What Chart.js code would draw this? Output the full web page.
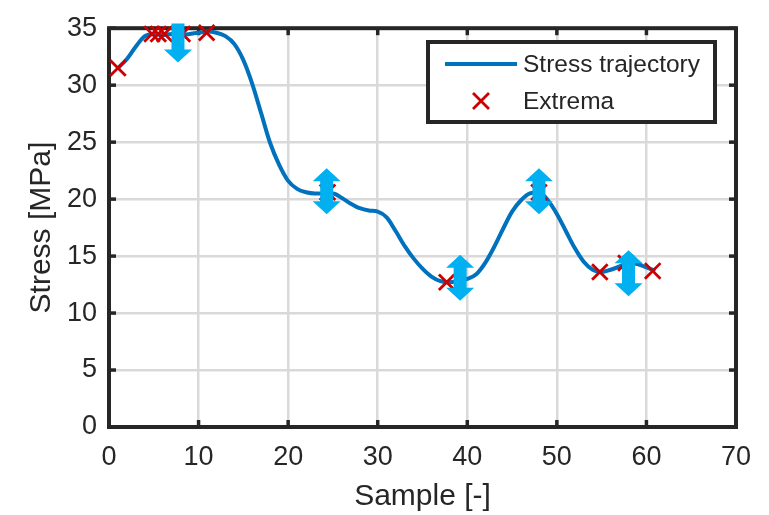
<!DOCTYPE html>
<html><head><meta charset="utf-8">
<script src="https://cdn.jsdelivr.net/npm/chart.js@4"></script>
<style>html,body{margin:0;padding:0;background:#fff}</style>
</head><body>
<canvas id="c" width="769" height="515"></canvas>
<script>
// ---- data ----
const sampleX = [1,2,3,4,5,6,7,8,9,10,11,12,13,14,15,16,17,18,19,20,21,22,23,24,25,26,27,28,29,30,31,32,33,34,35,36,37,38,39,40,41,42,43,44,45,46,47,48,49,50,51,52,53,54,55,56,57,58,59,60,61];
const stressY = [31.5,32.3,33.4,34.3,34.5,34.4,34.5,34.4,34.5,34.6,34.7,34.6,34.3,33.6,32.2,30.1,27.5,24.9,23.0,21.6,20.9,20.6,20.5,20.5,20.5,20.1,19.6,19.2,19.0,18.9,18.4,17.2,15.9,14.8,13.9,13.2,12.8,12.7,12.8,13.0,13.4,14.4,15.8,17.4,18.9,19.9,20.5,20.6,19.9,18.7,17.2,15.7,14.5,13.8,13.6,13.8,14.1,14.4,14.3,14.0,13.7];
const extremaX = [1,4.8,5.5,6.2,8.2,10.9,24.4,37.7,48,54.8,57.7,60.7];
const extremaY = [31.5,34.5,34.5,34.5,34.5,34.6,20.6,12.7,20.6,13.6,14.4,13.7];
const arrowX = [7.7,24.3,39.2,48,58];
const arrowY = [33.7,20.7,13.1,20.7,13.5];
const arrowKind = ['down','both','both','both','both'];
const xTicks = [0,10,20,30,40,50,60,70];
const yTicks = [0,5,10,15,20,25,30,35];
const seriesNames = ['Stress trajectory','Extrema'];
const axisTitles = {x:'Sample [-]', y:'Stress [MPa]'};

const FONT = "'Liberation Sans', Arial, Helvetica, sans-serif";
const TXT = '#262626';
const BLUE = '#0072BD';
const RED = '#cc0000';
const ARROW = '#00b0f0';

const frame = {
  id:'frame',
  beforeDatasetsDraw(chart){
    const {ctx, chartArea:a, scales:{x,y}} = chart;
    ctx.save();
    ctx.strokeStyle = TXT; ctx.lineWidth = 3.5; ctx.lineCap='butt';
    const ln=(x1,y1,x2,y2)=>{ctx.beginPath();ctx.moveTo(x1,y1);ctx.lineTo(x2,y2);ctx.stroke();};
    xTicks.forEach(v=>{const p=x.getPixelForValue(v); ln(p,a.top,p,a.top+7); ln(p,a.bottom,p,a.bottom-7);});
    yTicks.forEach(v=>{const p=y.getPixelForValue(v); ln(a.left,p,a.left+7,p); ln(a.right,p,a.right-7,p);});
    ctx.lineWidth = 4;
    ctx.strokeRect(a.left,a.top,a.right-a.left,a.bottom-a.top);
    ctx.restore();
  },
  afterDatasetsDraw(chart){
    const {ctx, scales:{x,y}} = chart;
    ctx.save();
    ctx.fillStyle = ARROW;
    const sw=6.5, hw=14, hl=13;
    arrowX.forEach((v,i)=>{
      const cx=x.getPixelForValue(v), cy=y.getPixelForValue(arrowY[i]);
      ctx.beginPath();
      if(arrowKind[i]==='down'){
        const L=39, t=cy-L/2, b=cy+L/2;
        ctx.moveTo(cx-sw,t); ctx.lineTo(cx+sw,t); ctx.lineTo(cx+sw,b-hl); ctx.lineTo(cx+hw,b-hl);
        ctx.lineTo(cx,b); ctx.lineTo(cx-hw,b-hl); ctx.lineTo(cx-sw,b-hl); ctx.closePath();
      } else {
        const L=46, t=cy-L/2, b=cy+L/2;
        ctx.moveTo(cx,t); ctx.lineTo(cx+hw,t+hl); ctx.lineTo(cx+sw,t+hl); ctx.lineTo(cx+sw,b-hl);
        ctx.lineTo(cx+hw,b-hl); ctx.lineTo(cx,b); ctx.lineTo(cx-hw,b-hl); ctx.lineTo(cx-sw,b-hl);
        ctx.lineTo(cx-sw,t+hl); ctx.lineTo(cx-hw,t+hl); ctx.closePath();
      }
      ctx.fill();
    });
    // legend
    const lx=428, ly=42, lw=287, lh=80;
    ctx.fillStyle='#fff'; ctx.fillRect(lx,ly,lw,lh);
    ctx.strokeStyle=TXT; ctx.lineWidth=4; ctx.strokeRect(lx,ly,lw,lh);
    ctx.strokeStyle=BLUE; ctx.lineWidth=4;
    ctx.beginPath(); ctx.moveTo(445,64); ctx.lineTo(517,64); ctx.stroke();
    ctx.strokeStyle=RED; ctx.lineWidth=2.8;
    const cxm=481, cym=101, r=8;
    ctx.beginPath(); ctx.moveTo(cxm-r,cym-r); ctx.lineTo(cxm+r,cym+r); ctx.moveTo(cxm+r,cym-r); ctx.lineTo(cxm-r,cym+r); ctx.stroke();
    ctx.fillStyle=TXT; ctx.font='24.5px '+FONT; ctx.textBaseline='middle'; ctx.textAlign='left';
    ctx.fillText(chart.data.datasets[0].label,523,65);
    ctx.fillText(chart.data.datasets[1].label,523,102);
    ctx.restore();
  }
};

new Chart(document.getElementById('c'), {
  type:'scatter',
  data:{datasets:[
    {label:seriesNames[0], data:sampleX.map((v,i)=>({x:v,y:stressY[i]})), showLine:true,
     borderColor:BLUE, borderWidth:4, pointRadius:0, cubicInterpolationMode:'monotone', clip:false, order:2},
    {label:seriesNames[1], data:extremaX.map((v,i)=>({x:v,y:extremaY[i]})), showLine:false,
     pointStyle:'crossRot', pointRadius:11, borderColor:RED, backgroundColor:RED, pointBorderWidth:2.8, borderWidth:2.8, clip:false, order:1}
  ]},
  options:{
    responsive:false, animation:false, devicePixelRatio:1,
    layout:{padding:{left:0,top:18,right:33,bottom:0}},
    plugins:{legend:{display:false}, tooltip:{enabled:false}},
    scales:{
      x:{type:'linear', min:0, max:70,
        afterBuildTicks(s){s.ticks=xTicks.map(v=>({value:v}));},
        afterFit(s){s.height=88;},
        grid:{color:'#d9d9d9', lineWidth:2.5, drawTicks:false},
        border:{display:false},
        ticks:{color:TXT, font:{family:FONT,size:27}, padding:14, maxRotation:0},
        title:{display:true, text:axisTitles.x, color:TXT, font:{family:FONT,size:30}, padding:{top:0,bottom:0}}
      },
      y:{type:'linear', min:0, max:35,
        afterBuildTicks(s){s.ticks=yTicks.map(v=>({value:v}));},
        afterFit(s){s.width=109;},
        grid:{color:'#d9d9d9', lineWidth:2.5, drawTicks:false},
        border:{display:false},
        ticks:{color:TXT, font:{family:FONT,size:27}, padding:12},
        title:{display:true, text:axisTitles.y, color:TXT, font:{family:FONT,size:30}, padding:{top:24,bottom:0}}
      }
    }
  },
  plugins:[frame]
});
</script>
</body></html>
